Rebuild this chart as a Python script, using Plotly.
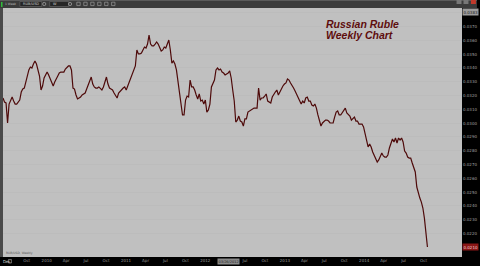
import plotly.graph_objects as go
import pandas as pd

# ---------------- data ----------------
weekly_values = [
    0.03182, 0.03153, 0.03146, 0.03001, 0.03138, 0.03160, 0.03189, 0.03160, 0.03138, 0.03138,
    0.03153, 0.03167, 0.03225, 0.03247, 0.03254, 0.03298, 0.03356, 0.03385, 0.03406, 0.03399,
    0.03428, 0.03450, 0.03428, 0.03385, 0.03341, 0.03240, 0.03269, 0.03327, 0.03349, 0.03370,
    0.03349, 0.03320, 0.03283, 0.03269, 0.03298, 0.03327, 0.03341, 0.03363, 0.03370, 0.03370,
    0.03370, 0.03392, 0.03406, 0.03414, 0.03414, 0.03385, 0.03254, 0.03247, 0.03204, 0.03175,
    0.03182, 0.03189, 0.03204, 0.03211, 0.03218, 0.03247, 0.03276, 0.03305, 0.03334, 0.03283,
    0.03262, 0.03254, 0.03254, 0.03262, 0.03247, 0.03240, 0.03262, 0.03298, 0.03334, 0.03283,
    0.03254, 0.03247, 0.03240, 0.03218, 0.03204, 0.03182, 0.03218, 0.03233, 0.03247, 0.03254,
    0.03262, 0.03240, 0.03269, 0.03298, 0.03320, 0.03341, 0.03370, 0.03414, 0.03530, 0.03501,
    0.03501, 0.03508, 0.03530, 0.03551, 0.03544, 0.03573, 0.03638, 0.03573, 0.03559, 0.03559,
    0.03573, 0.03588, 0.03573, 0.03551, 0.03522, 0.03530, 0.03551, 0.03544, 0.03573, 0.03602,
    0.03530, 0.03435, 0.03450, 0.03428, 0.03385, 0.03298, 0.03204, 0.03109, 0.03059, 0.03059,
    0.03167, 0.03196, 0.03189, 0.03312, 0.03262, 0.03262, 0.03240, 0.03204, 0.03175, 0.03211,
    0.03160, 0.03167, 0.03138, 0.03167, 0.03080, 0.03095, 0.03138, 0.03262, 0.03291, 0.03312,
    0.03385, 0.03399, 0.03385, 0.03392, 0.03370, 0.03363, 0.03349, 0.03356, 0.03363, 0.03378,
    0.03327, 0.03240, 0.03160, 0.03008, 0.03022, 0.03051, 0.03015, 0.03008, 0.02979, 0.03030,
    0.03030, 0.03080, 0.03088, 0.03095, 0.03102, 0.03109, 0.03109, 0.03109, 0.03254, 0.03167,
    0.03182, 0.03182, 0.03196, 0.03211, 0.03160, 0.03153, 0.03146, 0.03189, 0.03211, 0.03225,
    0.03240, 0.03204, 0.03225, 0.03254, 0.03269, 0.03283, 0.03291, 0.03320, 0.03312, 0.03291,
    0.03276, 0.03254, 0.03233, 0.03211, 0.03189, 0.03160, 0.03138, 0.03160, 0.03146, 0.03182,
    0.03189, 0.03160, 0.03160, 0.03131, 0.03124, 0.03138, 0.03109, 0.03059, 0.03008, 0.02979,
    0.03001, 0.03015, 0.03022, 0.03022, 0.03015, 0.03001, 0.03001, 0.03001, 0.03044, 0.03080,
    0.03088, 0.03059, 0.03059, 0.03073, 0.03095, 0.03109, 0.03073, 0.03059, 0.03051, 0.03022,
    0.03030, 0.03044, 0.03015, 0.03015, 0.02993, 0.02993, 0.02993, 0.02972, 0.02928, 0.02863,
    0.02827, 0.02849, 0.02827, 0.02791, 0.02762, 0.02740, 0.02718, 0.02733, 0.02762, 0.02783,
    0.02762, 0.02754, 0.02754, 0.02769, 0.02820, 0.02856, 0.02885, 0.02863, 0.02892, 0.02856,
    0.02892, 0.02878, 0.02892, 0.02863, 0.02798, 0.02783, 0.02754, 0.02747, 0.02747, 0.02711,
    0.02682, 0.02646, 0.02537, 0.02486, 0.02457, 0.02428, 0.02385, 0.02312, 0.02225, 0.02102,
]
first_week = "2009-06-14"
dates = pd.date_range(start=first_week, periods=len(weekly_values), freq="7D")

y_tick_vals = [0.0380, 0.0370, 0.0360, 0.0350, 0.0340, 0.0330, 0.0320, 0.0310, 0.0300,
               0.0290, 0.0280, 0.0270, 0.0260, 0.0250, 0.0240, 0.0230, 0.0220]
y_tick_text = [f"{v:.4f}" for v in y_tick_vals]

x_tick_dates = ["2009-10-01", "2010-01-01", "2010-04-01", "2010-07-01", "2010-10-01",
                "2011-01-01", "2011-04-01", "2011-07-01", "2011-10-01", "2012-01-01",
                "2012-07-01", "2012-10-01", "2013-01-01", "2013-04-01",
                "2013-07-01", "2013-10-01", "2014-01-01", "2014-04-01", "2014-07-01",
                "2014-10-01"]
x_tick_labels = ["Oct", "2010", "Apr", "Jul", "Oct", "2011", "Apr", "Jul", "Oct", "2012",
                 "Jul", "Oct", "2013", "Apr", "Jul", "Oct", "2014", "Apr", "Jul", "Oct"]
grid_dates = ["2009-10-01", "2010-04-01", "2010-10-01", "2011-04-01", "2011-10-01",
              "2012-04-01", "2012-10-01", "2013-04-01", "2013-10-01", "2014-04-01",
              "2014-10-01"]
crosshair_date_label = "03/26/2012"

x_range = ["2009-06-14", "2015-03-27"]
y_range = [0.02030, 0.03834]

title_line1 = "Russian Ruble"
title_line2 = "Weekly Chart"
symbol_text = "RUB/USD"

# ---------------- figure ----------------
W, H = 480, 266
L, R, T, B = 3, 15, 8, 9


def px(x):
    return (x - L) / (W - L - R)


def py(y):
    return (H - B - y) / (H - T - B)


line_color = "#4e0a0a"
fig = go.Figure()
fig.add_trace(go.Scatter(x=dates, y=weekly_values, mode="lines",
                         line=dict(color=line_color, width=1.2), hoverinfo="skip"))

fig.update_layout(
    width=W, height=H, margin=dict(l=L, r=R, t=T, b=B),
    paper_bgcolor="#000000", plot_bgcolor="#c0c0c0", showlegend=False,
    xaxis=dict(type="date", range=x_range, tickvals=x_tick_dates, ticktext=x_tick_labels,
               showgrid=False, zeroline=False, showline=False, ticks="",
               tickfont=dict(size=4, color="#9a9a9a", family="DejaVu Sans")),
    xaxis2=dict(type="date", range=x_range, overlaying="x", tickvals=grid_dates,
                showgrid=True, gridcolor="#b4b4b4", gridwidth=1, showticklabels=False,
                ticks="", zeroline=False, showline=False),
    yaxis=dict(range=y_range, side="right", tickvals=y_tick_vals, ticktext=y_tick_text,
               showgrid=True, gridcolor="#bcbcbc", gridwidth=0.5, zeroline=False,
               showline=False, ticks="",
               tickfont=dict(size=4, color="#a0a0a0", family="DejaVu Sans")),
)

shapes = []
# top toolbar
shapes.append(dict(type="rect", xref="paper", yref="paper", x0=px(0), x1=px(W), y0=py(8), y1=py(0),
                   fillcolor="#3b3b3b", line=dict(width=0), layer="above"))
shapes.append(dict(type="rect", xref="paper", yref="paper", x0=px(0), x1=px(W), y0=py(1), y1=py(0),
                   fillcolor="#5a5a5a", line=dict(width=0), layer="above"))
# left frame strip
shapes.append(dict(type="rect", xref="paper", yref="paper", x0=px(0), x1=px(3), y0=py(H - B), y1=py(8),
                   fillcolor="#4a4a4a", line=dict(width=0), layer="above"))
# toolbar widgets
shapes.append(dict(type="rect", xref="paper", yref="paper", x0=px(1), x1=px(2.5), y0=py(7), y1=py(2),
                   fillcolor="#2fbf3a", line=dict(width=0), layer="above"))
for x0, x1 in [(20, 42), (50, 69)]:
    shapes.append(dict(type="rect", xref="paper", yref="paper", x0=px(x0), x1=px(x1), y0=py(6.5), y1=py(1.5),
                       fillcolor="#262626", line=dict(width=0.5, color="#777777"), layer="above"))
for cx in [44.5, 70.5]:
    shapes.append(dict(type="circle", xref="paper", yref="paper", x0=px(cx - 1.6), x1=px(cx + 1.6),
                       y0=py(5.6), y1=py(2.4), line=dict(width=0.6, color="#bbbbbb"), layer="above"))
for i in range(6):
    cx = 79 + i * 7
    shapes.append(dict(type="rect", xref="paper", yref="paper", x0=px(cx - 1.7), x1=px(cx + 1.7),
                       y0=py(5.6), y1=py(2.2), line=dict(width=0.6, color="#aaaaaa"), layer="above"))
# window buttons
for cx, col in [(462, "#777777"), (469, "#777777"), (476.5, "#c0392b")]:
    shapes.append(dict(type="rect", xref="paper", yref="paper", x0=px(cx - 2.5), x1=px(cx + 2.5),
                       y0=py(4), y1=py(0), fillcolor=col, line=dict(width=0), layer="above"))
# bottom-left small box
shapes.append(dict(type="rect", xref="paper", yref="paper", x0=px(8.5), x1=px(11.5), y0=py(263), y1=py(259.5),
                   line=dict(width=0.6, color="#aaaaaa"), layer="above"))
fig.update_layout(shapes=shapes)

ann = []
ann.append(dict(text=f"<b><i>{title_line1}</i></b>", xref="paper", yref="paper", x=px(326), y=py(23.5),
                xanchor="left", yanchor="middle", showarrow=False,
                font=dict(family="Liberation Sans", size=10.5, color="#5e0d0d")))
ann.append(dict(text=f"<b><i>{title_line2}</i></b>", xref="paper", yref="paper", x=px(326), y=py(34.5),
                xanchor="left", yanchor="middle", showarrow=False,
                font=dict(family="Liberation Sans", size=10.5, color="#5e0d0d")))
# current price marker on right axis
ann.append(dict(text=f"{weekly_values[-1]:.4f}", xref="paper", yref="y", x=1.0, y=weekly_values[-1],
                xanchor="left", yanchor="middle", showarrow=False, bgcolor="#8a1616",
                font=dict(size=4, color="#f0d0d0", family="DejaVu Sans"), borderpad=0.5))
# top-of-axis marker
ann.append(dict(text=f"{y_range[1]:.4f}", xref="paper", yref="paper", x=1.0, y=1.0,
                xanchor="left", yanchor="top", showarrow=False, bgcolor="#9c9c9c",
                font=dict(size=4, color="#202020", family="DejaVu Sans"), borderpad=0.5))
# toolbar texts
ann.append(dict(text=symbol_text, xref="paper", yref="paper", x=px(21), y=py(4),
                xanchor="left", yanchor="middle", showarrow=False,
                font=dict(size=3.5, color="#cccccc", family="DejaVu Sans")))
ann.append(dict(text="W", xref="paper", yref="paper", x=px(51), y=py(4),
                xanchor="left", yanchor="middle", showarrow=False,
                font=dict(size=3.5, color="#cccccc", family="DejaVu Sans")))
ann.append(dict(text="1 Week", xref="paper", yref="paper", x=px(3.5), y=py(4),
                xanchor="left", yanchor="middle", showarrow=False,
                font=dict(size=3, color="#bbbbbb", family="DejaVu Sans")))
# bottom-left labels
ann.append(dict(text="Dec", xref="paper", yref="paper", x=px(0.5), y=py(261.5),
                xanchor="left", yanchor="middle", showarrow=False,
                font=dict(size=4, color="#dddddd", family="DejaVu Sans")))
ann.append(dict(text=f"{symbol_text}, Weekly", xref="paper", yref="paper", x=px(4), y=0.0,
                xanchor="left", yanchor="bottom", showarrow=False,
                font=dict(size=3, color="#555555", family="DejaVu Sans")))
# crosshair date box on time axis
ann.append(dict(text=crosshair_date_label, xref="paper", yref="paper", x=px(230), y=py(261.5),
                xanchor="center", yanchor="middle", showarrow=False, bgcolor="#8a8a8a",
                font=dict(size=3.5, color="#1a1a1a", family="DejaVu Sans"), borderpad=0.5))
fig.update_layout(annotations=ann)

fig.write_html("out.html")
